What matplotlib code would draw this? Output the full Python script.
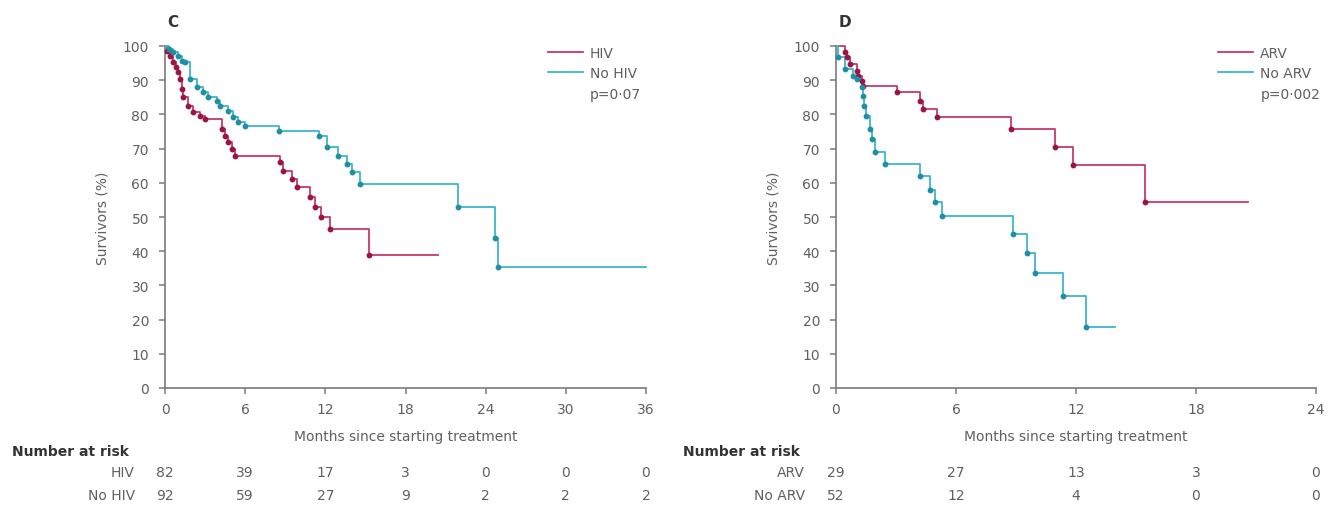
import matplotlib.pyplot as plt
from matplotlib.lines import Line2D
import matplotlib.transforms as mtransforms

# panel C: HIV vs no HIV (months, survivors %)
hiv_t = [0, 0.15, 0.37, 0.62, 0.8, 1.0, 1.12, 1.25, 1.37, 1.74, 2.12, 2.62, 3.0,
         4.24, 4.5, 4.74, 4.99, 5.24, 8.6, 8.86, 9.5, 9.86, 10.85, 11.2, 11.7,
         12.35, 15.3, 20.4]
hiv_s = [100, 98.6, 97.2, 95.2, 93.8, 92.3, 90.4, 87.4, 85.0, 82.5, 80.6, 79.6, 78.7,
         75.7, 73.8, 71.8, 69.9, 67.9, 66.0, 63.5, 61.1, 58.7, 55.8, 52.8, 49.9,
         46.5, 38.9, 38.9]
nohiv_t = [0, 0.3, 0.62, 1.0, 1.25, 1.5, 1.87, 2.37, 2.87, 3.24, 3.87, 4.1, 4.74,
           5.1, 5.5, 6.0, 8.5, 11.5, 12.1, 12.97, 13.6, 13.97, 14.6, 21.95, 24.7,
           24.95, 36]
nohiv_s = [100, 99.0, 98.1, 97.0, 95.7, 95.2, 90.4, 87.9, 86.5, 85.0, 84.0, 82.5, 81.1,
           79.1, 77.7, 76.7, 75.2, 73.8, 70.4, 67.9, 65.5, 63.1, 59.6, 52.8, 44.0,
           35.3, 35.3]

# panel D: ARV vs no ARV
arv_t = [0, 0.45, 0.53, 0.7, 1.03, 1.12, 1.28, 1.37, 3.03, 4.2, 4.37, 5.03, 8.73,
         10.95, 11.87, 15.45, 20.6]
arv_s = [100, 98.2, 96.7, 94.7, 92.8, 91.3, 89.9, 88.4, 86.5, 84.0, 81.6, 79.1, 75.7,
         70.4, 65.2, 54.3, 54.3]
noarv_t = [0, 0.12, 0.45, 0.87, 1.03, 1.28, 1.37, 1.42, 1.5, 1.7, 1.78, 1.95, 2.45,
           4.2, 4.7, 4.95, 5.28, 8.87, 9.53, 9.95, 11.37, 12.48, 13.95]
noarv_s = [100, 96.7, 93.3, 91.3, 90.4, 87.9, 85.5, 82.5, 79.4, 75.7, 72.8, 69.1, 65.5,
           62.1, 58.0, 54.3, 50.2, 45.0, 39.5, 33.6, 27.0, 17.9, 17.9]

risk_ticks_c = [0, 6, 12, 18, 24, 30, 36]
risk_hiv = [82, 39, 17, 3, 0, 0, 0]
risk_nohiv = [92, 59, 27, 9, 2, 2, 2]
risk_ticks_d = [0, 6, 12, 18, 24]
risk_arv = [29, 27, 13, 3, 0]
risk_noarv = [52, 12, 4, 0, 0]

RED = "#c73a66"
RED_DOT = "#981545"
BLUE = "#3db5cb"
BLUE_DOT = "#1f8fa6"
AXC = "#7a7a7a"
TXT = "#606060"

plt.rcParams["font.family"] = ["DejaVu Sans"]
plt.rcParams["font.size"] = 10

W, H = 1329, 506
fig = plt.figure(figsize=(W / 100, H / 100), dpi=100)


def fx(px):
    return px / W


def fy(py):
    return (H - py) / H


def panel(x0, x1, xmax, series, labels, pval, letter, risk_ticks, risk_rows, row_names,
          nar_x, row_right):
    ax = fig.add_axes([fx(x0), fy(389), fx(x1 - x0), (389 - 47) / H])
    for (t, s), c, dc in zip(series, [RED, BLUE], [RED_DOT, BLUE_DOT]):
        ax.step(t, s, where="post", color=c, lw=1.3, clip_on=False, zorder=3)
        ax.plot(t[1:-1], s[1:-1], "o", ms=3.2, color=dc, mec=dc, zorder=4, clip_on=False)
    ax.set_xlim(0, xmax)
    ax.set_ylim(0, 100)
    ax.set_xticks(range(0, xmax + 1, 6))
    ax.set_yticks(range(0, 101, 10))
    for sp in ["top", "right"]:
        ax.spines[sp].set_visible(False)
    for sp in ["left", "bottom"]:
        ax.spines[sp].set_color(AXC)
        ax.spines[sp].set_linewidth(1.2)
    ax.tick_params(axis="y", direction="out", length=4.5, width=1.1, color=AXC,
                   labelcolor=TXT, labelsize=10, pad=7)
    ax.tick_params(axis="x", direction="out", length=4, width=1.1, color=AXC,
                   labelcolor=TXT, labelsize=10, pad=6)
    ax.set_ylabel("Survivors (%)", color=TXT, fontsize=10)
    ax.yaxis.set_label_coords(-0.115, 0.5)
    ax.set_xlabel("Months since starting treatment", color=TXT, fontsize=10)
    ax.xaxis.set_label_coords(0.5, -0.12)
    ax.text(0.005, 1.072, letter, transform=ax.transAxes, fontsize=11,
            fontweight="bold", color="#333333", ha="left", va="center")

    handles = [Line2D([], [], color=RED, lw=1.3), Line2D([], [], color=BLUE, lw=1.3)]
    leg = ax.legend(handles, labels, loc="upper left", bbox_to_anchor=(0.796, 1.0),
                    frameon=False, borderpad=0, borderaxespad=0, handlelength=2.5,
                    handletextpad=0.5, labelspacing=0.45, fontsize=10)
    for tx in leg.get_texts():
        tx.set_color(TXT)
    ax.text(0.884, (389 - 95) / 342, pval, transform=ax.transAxes, color=TXT,
            fontsize=10, ha="left", va="center")

    # number at risk table
    fig.text(fx(nar_x), fy(452), "Number at risk", fontweight="bold", color="#333333",
             fontsize=10, ha="left", va="center")
    trans = mtransforms.blended_transform_factory(ax.transData, fig.transFigure)
    for row, name, py in zip(risk_rows, row_names, [473, 496]):
        fig.text(fx(row_right), fy(py), name, color=TXT, fontsize=10, ha="right",
                 va="center")
        for xv, n in zip(risk_ticks, row):
            ax.text(xv, fy(py), str(n), transform=trans, color=TXT, fontsize=10,
                    ha="center", va="center")
    return ax


panel(165, 646, 36, [(hiv_t, hiv_s), (nohiv_t, nohiv_s)], ["HIV", "No HIV"],
      "p=0·07", "C", risk_ticks_c, [risk_hiv, risk_nohiv], ["HIV", "No HIV"], 12, 135)
panel(836, 1316, 24, [(arv_t, arv_s), (noarv_t, noarv_s)], ["ARV", "No ARV"],
      "p=0·002", "D", risk_ticks_d, [risk_arv, risk_noarv], ["ARV", "No ARV"], 683, 805)

plt.savefig("out.png", dpi=100)
plt.close()
